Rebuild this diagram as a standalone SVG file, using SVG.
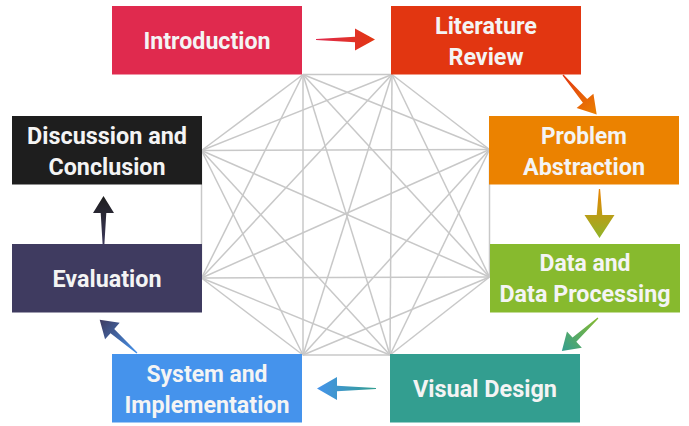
<svg xmlns="http://www.w3.org/2000/svg" width="689" height="426" viewBox="0 0 689 426">
<style>
.box{stroke:none}
.lbl{font-family:Roboto,"Liberation Sans",sans-serif;font-weight:700;font-size:24px;fill:#F4F4F4;text-anchor:middle}
.edge{stroke:#C8C8C8;stroke-width:1.5;fill:none}
</style>
<defs>
<linearGradient id="g1" gradientUnits="userSpaceOnUse" x1="0" y1="0" x2="59" y2="0"><stop offset="0" stop-color="#E02A4E"/><stop offset="1" stop-color="#E23611"/></linearGradient>
<linearGradient id="g2" gradientUnits="userSpaceOnUse" x1="0" y1="0" x2="52" y2="0"><stop offset="0" stop-color="#E23611"/><stop offset="1" stop-color="#EB8200"/></linearGradient>
<linearGradient id="g3" gradientUnits="userSpaceOnUse" x1="0" y1="0" x2="49" y2="0"><stop offset="0" stop-color="#EB8200"/><stop offset="1" stop-color="#8FB52A"/></linearGradient>
<linearGradient id="g4" gradientUnits="userSpaceOnUse" x1="0" y1="0" x2="49" y2="0"><stop offset="0" stop-color="#87BA2E"/><stop offset="1" stop-color="#339E90"/></linearGradient>
<linearGradient id="g5" gradientUnits="userSpaceOnUse" x1="0" y1="0" x2="59" y2="0"><stop offset="0" stop-color="#339E90"/><stop offset="1" stop-color="#4593EC"/></linearGradient>
<linearGradient id="g6" gradientUnits="userSpaceOnUse" x1="0" y1="0" x2="50" y2="0"><stop offset="0" stop-color="#4593EC"/><stop offset="1" stop-color="#3F3B60"/></linearGradient>
<linearGradient id="g7" gradientUnits="userSpaceOnUse" x1="0" y1="0" x2="53" y2="0"><stop offset="0" stop-color="#3F3B60"/><stop offset="1" stop-color="#1E1E1E"/></linearGradient>
</defs>
<rect width="689" height="426" fill="#FFFFFF"/>
<g id="connectors">
<g id="graph">
<line class="edge" x1="303" y1="74.5" x2="392" y2="74.5"/>
<line class="edge" x1="303" y1="74.5" x2="489.5" y2="149.5"/>
<line class="edge" x1="303" y1="74.5" x2="489.5" y2="277"/>
<line class="edge" x1="303" y1="74.5" x2="390" y2="355"/>
<line class="edge" x1="303" y1="74.5" x2="303" y2="355"/>
<line class="edge" x1="303" y1="74.5" x2="201.5" y2="278"/>
<line class="edge" x1="303" y1="74.5" x2="201.5" y2="150.5"/>
<line class="edge" x1="392" y1="74.5" x2="489.5" y2="149.5"/>
<line class="edge" x1="392" y1="74.5" x2="489.5" y2="277"/>
<line class="edge" x1="392" y1="74.5" x2="390" y2="355"/>
<line class="edge" x1="392" y1="74.5" x2="303" y2="355"/>
<line class="edge" x1="392" y1="74.5" x2="201.5" y2="278"/>
<line class="edge" x1="392" y1="74.5" x2="201.5" y2="150.5"/>
<line class="edge" x1="489.5" y1="149.5" x2="489.5" y2="277"/>
<line class="edge" x1="489.5" y1="149.5" x2="390" y2="355"/>
<line class="edge" x1="489.5" y1="149.5" x2="303" y2="355"/>
<line class="edge" x1="489.5" y1="149.5" x2="201.5" y2="278"/>
<line class="edge" x1="489.5" y1="149.5" x2="201.5" y2="150.5"/>
<line class="edge" x1="489.5" y1="277" x2="390" y2="355"/>
<line class="edge" x1="489.5" y1="277" x2="303" y2="355"/>
<line class="edge" x1="489.5" y1="277" x2="201.5" y2="278"/>
<line class="edge" x1="489.5" y1="277" x2="201.5" y2="150.5"/>
<line class="edge" x1="390" y1="355" x2="303" y2="355"/>
<line class="edge" x1="390" y1="355" x2="201.5" y2="278"/>
<line class="edge" x1="390" y1="355" x2="201.5" y2="150.5"/>
<line class="edge" x1="303" y1="355" x2="201.5" y2="278"/>
<line class="edge" x1="303" y1="355" x2="201.5" y2="150.5"/>
<line class="edge" x1="201.5" y1="278" x2="201.5" y2="150.5"/>
</g>
<path id="a1" fill="url(#g1)" transform="translate(316,39.5)" d="M0,-0.6 L39,-2.8 L39,-11 L59,0 L39,11 L39,2.8 L0,0.6 Z"/>
<path id="a2" fill="url(#g2)" transform="translate(563,75) rotate(49.6)" d="M0,-0.6 L34,-2.8 L34,-11 L52,0 L34,11 L34,2.8 L0,0.6 Z"/>
<path id="a3" fill="url(#g3)" transform="translate(599.5,189) rotate(90)" d="M0,-0.6 L26,-2.8 L26,-15 L49,0 L26,15 L26,2.8 L0,0.6 Z"/>
<path id="a4" fill="url(#g4)" transform="translate(598,318) rotate(137.5)" d="M0,-0.6 L32,-2.8 L32,-11 L49,0 L32,11 L32,2.8 L0,0.6 Z"/>
<path id="a5" fill="url(#g5)" transform="translate(376,388.5) rotate(180)" d="M0,-0.6 L39,-2.8 L39,-11.5 L59,0 L39,11.5 L39,2.8 L0,0.6 Z"/>
<path id="a6" fill="url(#g6)" transform="translate(137,353) rotate(221.7)" d="M0,-0.6 L33,-2.8 L33,-11 L50,0 L33,11 L33,2.8 L0,0.6 Z"/>
<path id="a7" fill="url(#g7)" transform="translate(103.5,249) rotate(-90)" d="M0,-0.6 L36,-2.8 L36,-10.5 L53,0 L36,10.5 L36,2.8 L0,0.6 Z"/>
</g>
<g id="introduction"><rect class="box" x="112" y="6" width="190" height="68.5" fill="#E02A4E"/><text class="lbl" x="207" y="48.5" textLength="127" lengthAdjust="spacingAndGlyphs">Introduction</text></g>
<g id="literature-review"><rect class="box" x="391" y="6" width="190" height="68.5" fill="#E23611"/><text class="lbl" x="486" y="33.5" textLength="102" lengthAdjust="spacingAndGlyphs">Literature</text><text class="lbl" x="486" y="64.5" textLength="75" lengthAdjust="spacingAndGlyphs">Review</text></g>
<g id="problem-abstraction"><rect class="box" x="489" y="116" width="190" height="68.5" fill="#EB8200"/><text class="lbl" x="584" y="143.5" textLength="86" lengthAdjust="spacingAndGlyphs">Problem</text><text class="lbl" x="584" y="174.5" textLength="122" lengthAdjust="spacingAndGlyphs">Abstraction</text></g>
<g id="data-processing"><rect class="box" x="490" y="244" width="190" height="68.5" fill="#87BA2E"/><text class="lbl" x="585" y="270.5" textLength="91" lengthAdjust="spacingAndGlyphs">Data and</text><text class="lbl" x="585" y="302" textLength="171" lengthAdjust="spacingAndGlyphs">Data Processing</text></g>
<g id="visual-design"><rect class="box" x="390" y="354" width="190" height="68.5" fill="#339E90"/><text class="lbl" x="485" y="396.5" textLength="144" lengthAdjust="spacingAndGlyphs">Visual Design</text></g>
<g id="system-implementation"><rect class="box" x="112" y="354" width="190" height="68.5" fill="#4593EC"/><text class="lbl" x="207" y="381.5" textLength="121" lengthAdjust="spacingAndGlyphs">System and</text><text class="lbl" x="207" y="412.5" textLength="165" lengthAdjust="spacingAndGlyphs">Implementation</text></g>
<g id="evaluation"><rect class="box" x="12" y="244" width="190" height="68.5" fill="#3F3B60"/><text class="lbl" x="107" y="286.5" textLength="109" lengthAdjust="spacingAndGlyphs">Evaluation</text></g>
<g id="discussion-conclusion"><rect class="box" x="12" y="116" width="190" height="68.5" fill="#1E1E1E"/><text class="lbl" x="107" y="143.5" textLength="160" lengthAdjust="spacingAndGlyphs">Discussion and</text><text class="lbl" x="107" y="174.5" textLength="117" lengthAdjust="spacingAndGlyphs">Conclusion</text></g>
</svg>
